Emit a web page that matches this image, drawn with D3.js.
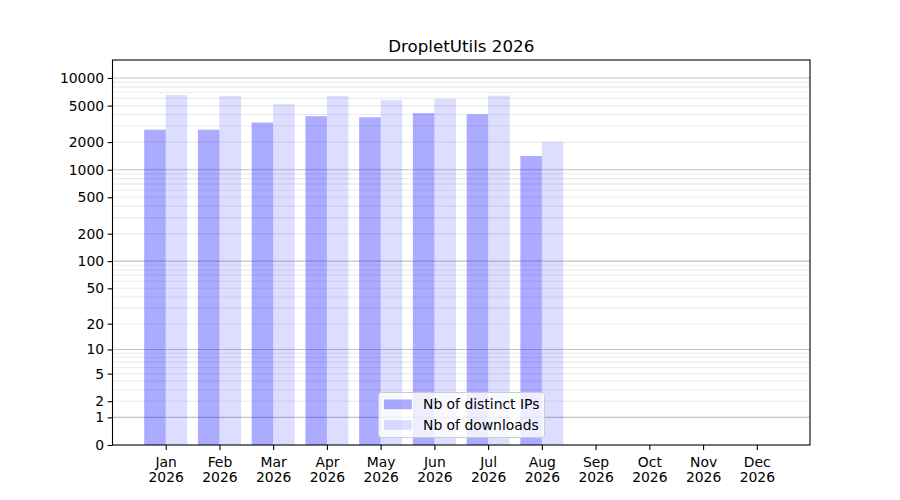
<!DOCTYPE html>
<html>
<head>
<meta charset="utf-8">
<script src="https://cdn.jsdelivr.net/npm/d3@7"></script>
<style>
  html, body { margin: 0; padding: 0; background: #fff; }
  svg { display: block; font-family: "DejaVu Sans", sans-serif; }
</style>
</head>
<body>
<svg id="chart" width="900" height="500"></svg>
<script>
// ---- data ----
const months = ["Jan","Feb","Mar","Apr","May","Jun","Jul","Aug","Sep","Oct","Nov","Dec"];
const yearLabel = "2026";
const distinctIPs = [2730, 2730, 3270, 3830, 3730, 4140, 4030, 1410, 0, 0, 0, 0];
const downloads   = [6540, 6370, 5180, 6370, 5750, 5900, 6430, 2010, 0, 0, 0, 0];
const yTicks = [0, 1, 2, 5, 10, 20, 50, 100, 200, 500, 1000, 2000, 5000, 10000];
const majorGrid = [1, 10, 100, 1000, 10000];
const minorMultipliers = [2, 3, 4, 5, 6, 7, 8, 9];
const minorDecades = [1, 10, 100, 1000];
const seriesNames = ["Nb of distinct IPs", "Nb of downloads"];
const titleText = "DropletUtils 2026";

// ---- layout ----
const svg = d3.select("#chart");
const pL = 112.5, pR = 810, pT = 60, pB = 445;

const x = d3.scaleLinear().domain([-0.99, 11.99]).range([pL, pR]);
const y = d3.scaleSymlog().constant(1).domain([0, 15700]).range([pB, pT]);

const barW = 0.4;
const colors = ["#0000ff", "#0000ff"];
const opac = [0.33, 0.135];

// grid
const minorVals = [];
minorDecades.forEach(d => minorMultipliers.forEach(m => minorVals.push(d * m)));
svg.append("g").selectAll("line").data(minorVals).join("line")
  .attr("x1", pL).attr("x2", pR)
  .attr("y1", d => y(d)).attr("y2", d => y(d))
  .attr("stroke", "#ebebeb").attr("stroke-width", 1.1);
svg.append("g").selectAll("line").data(majorGrid).join("line")
  .attr("x1", pL).attr("x2", pR)
  .attr("y1", d => y(d)).attr("y2", d => y(d))
  .attr("stroke", "#c4c4c4").attr("stroke-width", 1.1);

// bars
const series = [distinctIPs, downloads];
series.forEach((vals, s) => {
  const off = s === 0 ? -barW / 2 : barW / 2;
  svg.append("g").selectAll("rect").data(vals).join("rect")
    .attr("x", (d, i) => x(i + off - barW / 2))
    .attr("width", (d, i) => x(i + off + barW / 2) - x(i + off - barW / 2))
    .attr("y", d => y(d))
    .attr("height", d => y(0) - y(d))
    .attr("fill", colors[s]).attr("fill-opacity", opac[s]);
});

// axes
const yAxis = d3.axisLeft(y).tickValues(yTicks).tickFormat(d3.format("d")).tickSize(4.9).tickPadding(3.5);
const gy = svg.append("g").attr("transform", `translate(${pL},0)`).call(yAxis);
gy.select(".domain").remove();
gy.selectAll(".tick line").attr("stroke", "#000").attr("stroke-width", 1.1);
gy.selectAll(".tick text").attr("font-size", "13.9px").attr("fill", "#000")
  .attr("font-family", "DejaVu Sans, sans-serif");

const xAxis = d3.axisBottom(x).tickValues(d3.range(months.length)).tickFormat(() => "").tickSize(4.9);
const gx = svg.append("g").attr("transform", `translate(0,${pB})`).call(xAxis);
gx.select(".domain").remove();
gx.selectAll(".tick line").attr("stroke", "#000").attr("stroke-width", 1.1);
gx.selectAll(".tick").each(function(d) {
  const t = d3.select(this).append("text")
    .attr("fill", "#000").attr("font-size", "13.9px").attr("text-anchor", "middle")
    .attr("font-family", "DejaVu Sans, sans-serif");
  t.append("tspan").attr("x", 0).attr("y", 21.5).text(months[d]);
  t.append("tspan").attr("x", 0).attr("y", 37.3).text(yearLabel);
});

// frame
svg.append("rect").attr("x", pL).attr("y", pT).attr("width", pR - pL).attr("height", pB - pT)
  .attr("fill", "none").attr("stroke", "#000").attr("stroke-width", 1.1);

// title
svg.append("text").attr("x", (pL + pR) / 2).attr("y", 51.5).attr("text-anchor", "middle")
  .attr("font-size", "16.7px").attr("fill", "#000").text(titleText);

// legend
const lg = svg.append("g");
lg.append("rect").attr("x", 378.5).attr("y", 392.5).attr("width", 166).attr("height", 45)
  .attr("rx", 3).attr("fill", "#fff").attr("fill-opacity", 0.8)
  .attr("stroke", "#cccccc").attr("stroke-width", 1);
seriesNames.forEach((name, s) => {
  const yy = 399.5 + s * 20.6;
  lg.append("rect").attr("x", 384).attr("y", yy).attr("width", 27.8).attr("height", 9.7)
    .attr("fill", colors[s]).attr("fill-opacity", opac[s]);
  lg.append("text").attr("x", 423).attr("y", yy + 9.6).attr("font-size", "13.9px")
    .attr("fill", "#000").text(name);
});
</script>
</body>
</html>
